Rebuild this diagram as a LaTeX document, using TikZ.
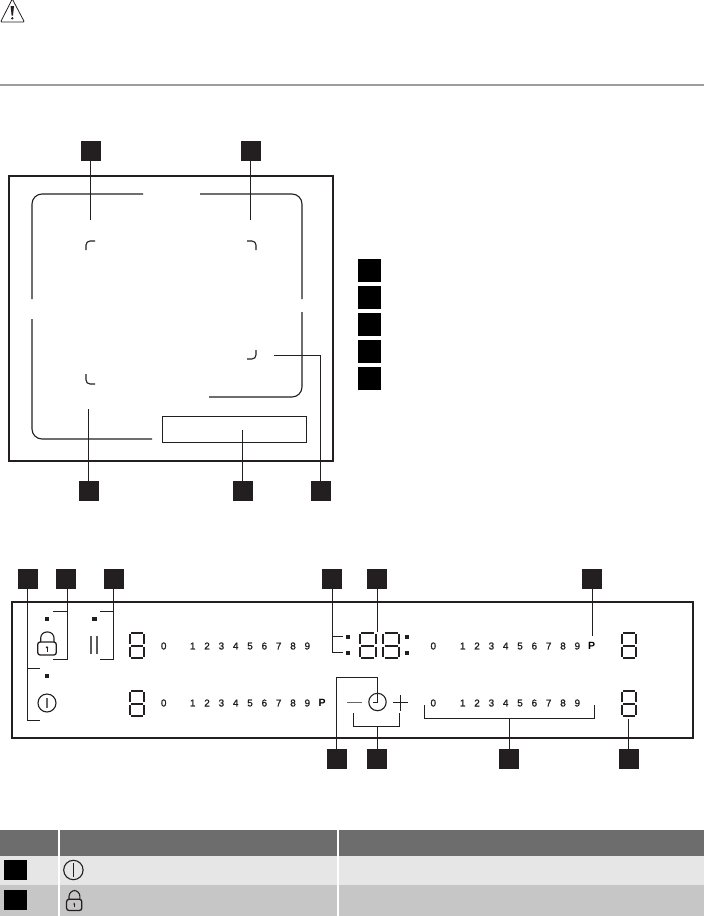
\documentclass[tikz,border=0pt]{standalone}
\usepackage{fontspec}
\usepackage{xcolor}
\setmainfont{Liberation Sans}
\newfontfamily\scalefont[FakeBold=1.2]{Liberation Sans}
\usetikzlibrary{positioning}
\definecolor{inkdark}{HTML}{231F20}
\definecolor{headgray}{HTML}{6D6D6D}
\definecolor{rowlight}{HTML}{E6E6E6}
\definecolor{rowdark}{HTML}{C6C6C6}
\tikzset{
  marker/.style={
    rectangle, fill=inkdark, minimum size=20pt, inner sep=0pt
  },
  legendbox/.style={
    rectangle, fill=black, minimum width=23pt, minimum height=23pt, inner sep=0pt
  },
  tablebox/.style={
    rectangle, fill=black, minimum width=23pt, minimum height=20pt, inner sep=0pt
  },
  cell/.style={
    rectangle, anchor=north west, inner sep=0pt
  },
  led/.style={
    rectangle, fill=inkdark, minimum size=4.5pt, inner sep=0pt
  },
  scalenum/.style={font=\fontsize{10}{10}\selectfont\scalefont, text=inkdark, inner sep=0pt},
  scaleletter/.style={font=\fontsize{10.5}{10}\selectfont\bfseries, text=black, inner sep=0pt},
  frame/.style={draw=inkdark, line width=1.8pt},
  outline/.style={draw=inkdark, line width=1.1pt, rounded corners=10pt},
  leader/.style={draw=inkdark, line width=1pt},
  icon/.style={draw=inkdark, line width=1.1pt},
  segdigit/.pic={
    \draw[inkdark, line width=2pt]
      (2.2,1) -- (13.8,1)  (2.2,13.5) -- (13.8,13.5)  (2.2,26) -- (13.8,26)
      (1,2.2) -- (1,12.3)  (15,2.2) -- (15,12.3)
      (1,14.7) -- (1,24.8)  (15,14.7) -- (15,24.8);
  },
  lockicon/.pic={
    \draw[icon, rounded corners=6pt] (3.7,10) -- (3.7,0) -- (17,0) -- (17,10);
    \draw[icon, line width=1.3pt, rounded corners=2.5pt] (0.7,10) rectangle (19.3,23);
    \draw[icon, line width=1pt] (10,19.5) -- (10,15.5);
    \fill[inkdark] (8.6,16) -- (10,14) -- (11.4,16) -- cycle;
  },
}

\begin{document}
\begin{tikzpicture}[x=1pt,y=-1pt,node distance=3.75pt]
  \useasboundingbox (0,0) rectangle (704,916);

  % Warning sign and rule
  \draw[icon, line width=0.8pt, rounded corners=1pt] (12.3,-1) -- (0.6,22) -- (24.4,22) -- cycle;
  \fill[inkdark] (10.6,6) -- (14,6) -- (13,15.5) -- (11.6,15.5) -- cycle;
  \fill[inkdark] (12.3,18.3) circle[radius=1.3pt];
  \draw[draw=black!38, line width=2pt] (0,85) -- (704,85);

  % Hob outline
  \draw[frame] (9,176) rectangle (333,461);
  \draw[outline] (32,299) -- (32,194) -- (143,194);
  \draw[outline] (200,194) -- (302,194) -- (302,299);
  \draw[outline] (32,319) -- (32,439) -- (152,439);
  \draw[outline] (302,312) -- (302,397) -- (209,397);
  \draw[draw=inkdark, line width=0.9pt] (162,416) rectangle (306,442);

  % Cooking zone corners
  \draw[outline, rounded corners=4pt] (86,250) -- (86,241) -- (95,241);
  \draw[outline, rounded corners=4pt] (247,241) -- (256,241) -- (256,250);
  \draw[outline, rounded corners=4pt] (256,350) -- (256,359) -- (247,359);
  \draw[outline, rounded corners=4pt] (86,374) -- (86,384) -- (95,384);

  % Hob markers
  \node[marker] (zonea) at (90.5,151) {};
  \node[marker] (zoneb) at (250.5,151) {};
  \node[marker] (zonec) at (88.5,491) {};
  \node[marker] (zoned) at (242.5,491) {};
  \node[marker] (zonee) at (320.5,491) {};

  \coordinate (zoneaend) at (90.5,220);
  \coordinate (zonebend) at (250.5,220);
  \coordinate (zonecend) at (88.5,409);
  \coordinate (zonedend) at (242.5,430);
  \coordinate (zoneeend) at (274,355);

  \draw[leader] (zonea) -- (zoneaend);
  \draw[leader] (zoneb) -- (zonebend);
  \draw[leader] (zonec) -- (zonecend);
  \draw[leader] (zoned) -- (zonedend);
  \draw[leader] (zonee.north) |- (zoneeend);

  % Legend squares
  \node[legendbox] (keya) at (369.5,270) {};
  \node[legendbox, below=of keya] (keyb) {};
  \node[legendbox, below=of keyb] (keyc) {};
  \node[legendbox, below=of keyc] (keyd) {};
  \node[legendbox, below=of keyd] (keye) {};

  % Control panel
  \draw[frame] (12,602) rectangle (693,738);

  % Lamps
  \node[led] (ledlock) at (47,619) {};
  \node[led] (ledpause) at (94.5,619) {};
  \node[led] (ledpower) at (47,676) {};
  \node[led] (colona) at (348,637) {};
  \node[led] (colonb) at (348,653) {};
  \node[led] (colonc) at (407,637) {};
  \node[led] (colond) at (407,653) {};

  % Sensor symbols
  \pic at (37,632) {lockicon};
  \draw[icon, draw=black!65] (91,636) -- (91,654);
  \draw[icon, draw=black!65] (97,636) -- (97,654);
  \draw[icon] (47,703) circle[radius=9pt];
  \draw[icon, draw=black!60, line width=1.3pt] (47,698) -- (47,708);
  \draw[icon] (377.5,702) circle[radius=8.7pt];
  \draw[icon, draw=black!60, line width=1.5pt] (347,702.5) -- (362,702.5);
  \draw[icon] (393,702.5) -- (408,702.5) (400.5,695) -- (400.5,711);

  % Displays
  \pic at (129,632) {segdigit};
  \pic at (129,690) {segdigit};
  \pic[xscale=1.14] at (358.5,632) {segdigit};
  \pic[xscale=1.14] at (382,632) {segdigit};
  \pic at (621,632) {segdigit};
  \pic at (621,690) {segdigit};

  % Power level scales
  \node[scalenum] (scaleaz) at (163.7,646) {0};
  \node[scalenum] (scalebz) at (163.7,703) {0};
  \node[scalenum] (scalecz) at (433.3,646) {0};
  \node[scalenum] (scaledz) at (433.3,703) {0};
  \foreach \n in {1,...,9} {
    \node[scalenum] (scalea\n) at ({192.7+14.33*(\n-1)},646) {\n};
    \node[scalenum] (scaleb\n) at ({192.7+14.33*(\n-1)},703) {\n};
    \node[scalenum] (scalec\n) at ({462.7+14.33*(\n-1)},646) {\n};
    \node[scalenum] (scaled\n) at ({462.7+14.33*(\n-1)},703) {\n};
  }
  \node[scaleletter] (scalebp) at (322,703) {P};
  \node[scaleletter] (scalecp) at (591.7,646) {P};

  % Panel markers
  \node[marker] (ctla) at (28,579) {};
  \node[marker] (ctlb) at (66,579) {};
  \node[marker] (ctlc) at (114,579) {};
  \node[marker] (ctld) at (332,579) {};
  \node[marker] (ctle) at (377,579) {};
  \node[marker] (ctlf) at (592,579) {};
  \node[marker] (ctlg) at (337,759) {};
  \node[marker] (ctlh) at (377,759) {};
  \node[marker] (ctli) at (509,759) {};
  \node[marker] (ctlj) at (629,759) {};

  \coordinate (ctlaup) at (40,668.5);
  \coordinate (ctladn) at (40,720);
  \coordinate (ctlbup) at (53,611);
  \coordinate (ctlbdn) at (53,659);
  \coordinate (ctlcup) at (99.5,611);
  \coordinate (ctlcdn) at (99.5,659);
  \coordinate (ctldup) at (343,636);
  \coordinate (ctlddn) at (343,652);
  \coordinate (ctleend) at (377,632);
  \coordinate (ctlfend) at (592,636);
  \coordinate (ctlgend) at (373,702);
  \coordinate (ctlhl) at (353,713);
  \coordinate (ctlhr) at (399,713);
  \coordinate (ctlil) at (424,705);
  \coordinate (ctlir) at (594,705);
  \coordinate (ctljend) at (628.5,719);

  % Panel leaders
  \draw[leader] (27,589) -- (27,720) -- (ctladn);
  \draw[leader] (27,668.5) -- (ctlaup);
  \draw[leader] (67.5,589) -- (67.5,659) -- (ctlbdn);
  \draw[leader] (67.5,611) -- (ctlbup);
  \draw[leader] (113.5,589) -- (113.5,659) -- (ctlcdn);
  \draw[leader] (113.5,611) -- (ctlcup);
  \draw[leader] (ctld.south) -- (332,652) -- (ctlddn);
  \draw[leader] (332,636) -- (ctldup);
  \draw[leader] (ctle) -- (ctleend);
  \draw[leader] (ctlf) -- (ctlfend);
  \draw[leader] (336.7,749) -- (336.7,677) -- (377.5,677) -- (377.5,702) -- (ctlgend);
  \draw[leader] (ctlh) -- (377,726);
  \draw[leader] (ctlhl) -- (353,726) -- (399,726) -- (ctlhr);
  \draw[leader] (ctli) -- (509,718);
  \draw[leader] (ctlil) -- (424,718) -- (594,718) -- (ctlir);
  \draw[leader] (628.5,749) -- (ctljend);

  % Table
  \node[cell, fill=headgray, minimum width=57.5pt, minimum height=26pt] (heada) at (0,830) {};
  \node[cell, fill=headgray, minimum width=277pt, minimum height=26pt] (headb) at (59.5,830) {};
  \node[cell, fill=headgray, minimum width=365.5pt, minimum height=26pt] (headc) at (338.5,830) {};
  \node[cell, fill=rowlight, minimum width=57.5pt, minimum height=29pt] (rowaa) at (0,856) {};
  \node[cell, fill=rowlight, minimum width=277pt, minimum height=29pt] (rowab) at (59.5,856) {};
  \node[cell, fill=rowlight, minimum width=365.5pt, minimum height=29pt] (rowac) at (338.5,856) {};
  \node[cell, fill=rowdark, minimum width=57.5pt, minimum height=31pt] (rowba) at (0,885) {};
  \node[cell, fill=rowdark, minimum width=277pt, minimum height=31pt] (rowbb) at (59.5,885) {};
  \node[cell, fill=rowdark, minimum width=365.5pt, minimum height=31pt] (rowbc) at (338.5,885) {};
  \node[tablebox] (tablea) at (15.5,870) {};
  \node[tablebox] (tableb) at (15.5,900) {};

  % Table symbols
  \draw[icon] (73.4,870) circle[radius=9.7pt];
  \draw[icon, line width=1.2pt] (73.4,863) -- (73.4,877);
  \pic[xscale=0.82, yscale=0.87] at (66,890.5) {lockicon};
\end{tikzpicture}
\end{document}
